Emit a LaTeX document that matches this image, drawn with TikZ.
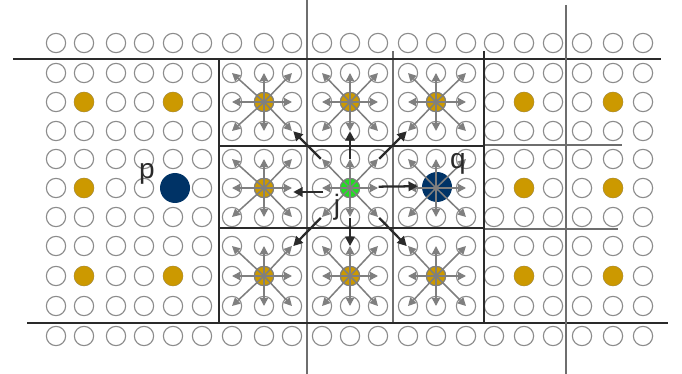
\documentclass[tikz,border=0pt]{standalone}
\usepackage{fontspec}
\setmainfont{Liberation Sans}
\usetikzlibrary{arrows.meta,calc}
\definecolor{gold}{HTML}{CC9900}
\definecolor{navy}{HTML}{003366}
\definecolor{jgreen}{HTML}{22DD22}
\definecolor{ring}{HTML}{8C8C8C}
\definecolor{arr}{HTML}{7F7F7F}
\definecolor{dark}{HTML}{2A2A2A}
\definecolor{thin}{HTML}{6E6E6E}
\begin{document}
\begin{tikzpicture}[x=0.75pt,y=-0.75pt,
  cell/.style={circle,draw=ring,fill=white,line width=0.85pt,minimum size=14.5pt,inner sep=0pt},
  goldc/.style={circle,draw=gold!85!gray,fill=gold,line width=0.6pt,minimum size=14.5pt,inner sep=0pt},
  ctrgold/.style={circle,draw=arr,fill=gold,line width=0.8pt,minimum size=14.5pt,inner sep=0pt},
  ctrgreen/.style={circle,draw=arr,fill=jgreen,line width=0.8pt,minimum size=14.5pt,inner sep=0pt},
  bigc/.style={circle,fill=navy,minimum size=22.5pt,inner sep=0pt},
  garrow/.style={draw=arr,line width=1.15pt,-{Triangle[length=6pt,width=6pt]}},
  darrow/.style={draw=dark,line width=1.7pt,-{Triangle[length=7pt,width=7pt]}},
  boldline/.style={draw=dark,line width=1.5pt},
  longline/.style={draw=dark,line width=1pt},
  thinline/.style={draw=thin,line width=1pt},
  lbl/.style={text=dark,font=\fontsize{21}{21}\selectfont,inner sep=0pt}]
\useasboundingbox (0,0) rectangle (682,374);
\def\CX{{56,84,116,144,173,202,232,264,292,322,350,378,408,436,466,494,524,553,582,613,643}}
\def\CY{{43,73,102,131,159,188,217,246,276,306,336}}
% grid of circles
\foreach \i in {0,...,20}{
  \foreach \j in {0,...,10}{
    \pgfmathsetmacro{\xx}{\CX[\i]}
    \pgfmathsetmacro{\yy}{\CY[\j]}
    \node[cell] (c-\i-\j) at (\xx,\yy) {};
  }
}
% lines
\draw[longline] (13,59) -- (661,59);
\draw[longline] (27,323) -- (668,323);
\draw[thinline] (307,0) -- (307,374);
\draw[thinline] (566,5) -- (566,374);
\draw[thinline] (393,51) -- (393,323);
\draw[thinline] (484,145) -- (622,145);
\draw[thinline] (484,229) -- (618,229);
\draw[boldline] (484,51) -- (484,323) -- (219,323) -- (219,59) -- (484,59);
\draw[boldline] (219,146) -- (484,146);
\draw[boldline] (219,228) -- (484,228);
% outer gold nodes
\foreach \i/\j in {1/2,4/2,16/2,19/2,1/5,16/5,19/5,1/8,4/8,16/8,19/8}{
  \node[goldc] (g-\i-\j) at (c-\i-\j) {};
}
% p and q
\node[bigc] (p) at ($(c-4-5)+(2,0)$) {};
\node[bigc] (q) at ($(c-13-5)+(1,-1)$) {};
% inner centres
\foreach \i/\j in {7/2,10/2,13/2,7/5,7/8,10/8,13/8}{
  \node[ctrgold] (k-\i-\j) at (c-\i-\j) {};
}
\node[ctrgreen] (j) at (c-10-5) {};
% gray arrows to the 8 neighbours
\foreach \i/\j in {7/2,10/2,13/2,7/5,10/5,13/5,7/8,10/8,13/8}{
  \foreach \dx in {-1,0,1}{
    \foreach \dy in {-1,0,1}{
      \pgfmathtruncatemacro{\ni}{\i+\dx}
      \pgfmathtruncatemacro{\nj}{\j+\dy}
      \pgfmathtruncatemacro{\skip}{(\dx==0)&&(\dy==0)}
      \ifnum\skip=0
        \draw[garrow] (c-\i-\j.center) -- (c-\ni-\nj.center);
      \fi
    }
  }
}
% dark arrows from j
\foreach \t in {c-7-2,c-10-2,c-13-2,c-10-8,c-7-8,c-13-8}{
  \draw[darrow] ($(j.center)!0.34!(\t.center)$) -- ($(j.center)!0.66!(\t.center)$);
}
\draw[darrow] ($(j.center)!0.31!(c-7-5.center)+(0,4)$) -- ($(j.center)!0.66!(c-7-5.center)+(0,4)$);
\draw[darrow] ($(j.center)!0.33!(q.center)+(0,-1)$) -- ($(j.center)!0.78!(q.center)+(0,-1)$);
% labels
\node[lbl] (lp) at (147,174) {p};
\node[lbl] (lq) at (458,164) {q};
\node[lbl] (lj) at (337,207) {j};
\end{tikzpicture}
\end{document}
